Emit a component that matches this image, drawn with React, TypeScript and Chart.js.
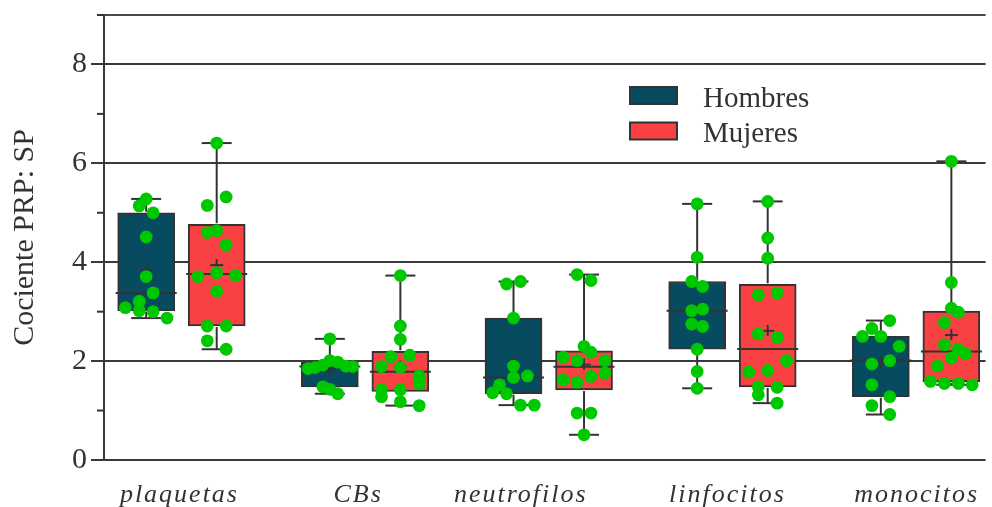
import React, { useEffect, useRef } from 'react';
import { Chart, registerables } from 'chart.js';

Chart.register(...registerables);

// ---------------- DATA ----------------
const categories = ['plaquetas', 'CBs', 'neutrofilos', 'linfocitos', 'monocitos'];
const seriesNames = ['Hombres', 'Mujeres'];
const yAxisTitle = 'Cociente PRP: SP';
const yTickLabels = [0, 2, 4, 6, 8];

// Hombres values per category
const hombresPlaquetas = [5.28, 5.14, 5.0, 4.51, 3.71, 3.38, 3.21, 3.08, 3.02, 3.0, 2.87];
const hombresCBs = [2.45, 2.01, 1.98, 1.9, 1.89, 1.92, 1.87, 1.85, 1.48, 1.43, 1.34];
const hombresNeutrofilos = [3.61, 3.56, 2.87, 1.9, 1.7, 1.67, 1.52, 1.36, 1.34, 1.11, 1.11];
const hombresLinfocitos = [5.18, 4.1, 3.61, 3.51, 3.05, 3.02, 2.75, 2.7, 2.24, 1.79, 1.45];
const hombresMonocitos = [2.82, 2.66, 2.5, 2.5, 2.3, 2.01, 1.94, 1.52, 1.28, 1.1, 0.92];

// Mujeres values per category
const mujeresPlaquetas = [6.41, 5.32, 5.15, 4.64, 4.6, 4.35, 3.79, 3.73, 3.71, 3.41, 2.71, 2.71, 2.41, 2.24];
const mujeresCBs = [3.73, 2.71, 2.44, 2.12, 2.09, 1.89, 1.87, 1.7, 1.54, 1.42, 1.42, 1.28, 1.18, 1.1];
const mujeresNeutrofilos = [3.75, 3.63, 2.3, 2.18, 2.08, 2.01, 2.01, 1.76, 1.69, 1.62, 1.57, 0.95, 0.95, 0.51];
const mujeresLinfocitos = [5.23, 4.49, 4.08, 3.38, 3.34, 2.55, 2.48, 2.01, 1.81, 1.78, 1.48, 1.47, 1.32, 1.15];
const mujeresMonocitos = [6.04, 3.59, 3.07, 2.99, 2.78, 2.33, 2.24, 2.15, 2.06, 1.9, 1.59, 1.55, 1.55, 1.52];

const hombresValues = [hombresPlaquetas, hombresCBs, hombresNeutrofilos, hombresLinfocitos, hombresMonocitos];
const mujeresValues = [mujeresPlaquetas, mujeresCBs, mujeresNeutrofilos, mujeresLinfocitos, mujeresMonocitos];

// ---------------- LAYOUT (not data) ----------------
// horizontal spread of the dots inside each box, in px (swarm slots)
const hombresSpread = [
  [0, -7, 7, 0, 0, 7, -7, -21, -7, 7, 21],
  [0, 0, 8, 16, 23, -7, -15, -22, -7, 0, 8],
  [7, -7, 0, 0, 14, 0, -14, -21, -7, 7, 21],
  [0, 0, -5.5, 5.5, 5.5, -5.5, -5.5, 5.5, 0, 0, 0],
  [9, -9, -18.5, 0, 18.5, 9, -9, -9, 9, -9, 9],
];
const mujeresSpread = [
  [0, 9.5, -9.5, 0, -9.5, 9.5, 0, 19, -19, 0, -9.5, 9.5, -9.5, 9.5],
  [0, 0, 0, 9.5, -9.5, -19, 0, 19, 19, -19, 0, -19, 0, 19],
  [-7, 7, 0, 7, -21, -7, 21, 21, 7, -21, -7, -7, 7, 0],
  [0, 0, 0, 9.5, -9.5, -9.5, 9.5, 19, 0, -19, -9.5, 9.5, -9.5, 9.5],
  [0, 0, 0, 7, -7, -7, 7, 14, 0, -14, -21, -7, 7, 21],
];
const labelShiftPx = [-3, -8, -29, -6, -0.5];

const FONT = "'Liberation Serif', 'Times New Roman', Times, serif";
const LINE = '#333333';
const COLORS = ['#064b5f', '#f94144'];
const DOT = '#00c800';
const PX_PER_CAT = 185;
const GROUP_OFFSETS = [-0.192, 0.192];
const BOX_PX = 57;
const CAP_PX = 30;
const X_MIN = -0.4216;
const X_MAX = 4.3784;

type Stats = { min: number; q1: number; med: number; q3: number; max: number; mean: number };

function quant(sorted: number[], p: number): number {
  const n = sorted.length;
  const pos = p * (n + 1);
  if (pos <= 1) return sorted[0];
  if (pos >= n) return sorted[n - 1];
  const lo = Math.floor(pos);
  const f = pos - lo;
  return sorted[lo - 1] + f * (sorted[lo] - sorted[lo - 1]);
}

function stats(vals: number[]): Stats {
  const s = [...vals].sort((a, b) => a - b);
  return {
    min: s[0],
    q1: quant(s, 0.25),
    med: quant(s, 0.5),
    q3: quant(s, 0.75),
    max: s[s.length - 1],
    mean: s.reduce((a, b) => a + b, 0) / s.length,
  };
}

const groupValues = [hombresValues, mujeresValues];
const groupSpread = [hombresSpread, mujeresSpread];
const groupStats: Stats[][] = groupValues.map((g) => g.map(stats));

const boxPlugin = {
  id: 'boxExtras',
  afterDatasetDraw(chart: any, args: any) {
    const ds = chart.data.datasets[args.index];
    if (ds.type !== 'bar') return;
    const g = ds.groupIndex as number;
    const xs = chart.scales.x;
    const ys = chart.scales.y;
    const ctx: CanvasRenderingContext2D = chart.ctx;
    ctx.save();
    ctx.strokeStyle = LINE;
    ctx.lineWidth = 2;
    const seg = (x1: number, y1: number, x2: number, y2: number) => {
      ctx.beginPath();
      ctx.moveTo(x1, y1);
      ctx.lineTo(x2, y2);
      ctx.stroke();
    };
    groupStats[g].forEach((s, i) => {
      const cx = xs.getPixelForValue(i + GROUP_OFFSETS[g]);
      const half = BOX_PX / 2;
      const yq1 = ys.getPixelForValue(s.q1);
      const yq3 = ys.getPixelForValue(s.q3);
      const ymax = ys.getPixelForValue(s.max);
      const ymin = ys.getPixelForValue(s.min);
      seg(cx, yq3 - 1, cx, ymax);
      seg(cx, yq1 + 1, cx, ymin);
      seg(cx - CAP_PX / 2, ymax, cx + CAP_PX / 2, ymax);
      seg(cx - CAP_PX / 2, ymin, cx + CAP_PX / 2, ymin);
      const ym = ys.getPixelForValue(s.med);
      seg(cx - half - 2, ym, cx + half + 2, ym);
      const ymean = ys.getPixelForValue(s.mean);
      seg(cx - 6.5, ymean, cx + 6.5, ymean);
      seg(cx, ymean - 6, cx, ymean + 5);
    });
    ctx.restore();
  },
};

const decorPlugin = {
  id: 'decor',
  afterDraw(chart: any) {
    const ctx: CanvasRenderingContext2D = chart.ctx;
    const xs = chart.scales.x;
    const ys = chart.scales.y;
    const area = chart.chartArea;
    ctx.save();
    // minor ticks
    ctx.strokeStyle = LINE;
    ctx.lineWidth = 2;
    for (let v = 1; v <= 9; v += 2) {
      const y = ys.getPixelForValue(v);
      ctx.beginPath();
      ctx.moveTo(area.left - 7, y);
      ctx.lineTo(area.left, y);
      ctx.stroke();
    }
    // category labels
    ctx.fillStyle = LINE;
    ctx.font = `italic 26px ${FONT}`;
    (ctx as any).letterSpacing = '2px';
    ctx.textAlign = 'center';
    ctx.textBaseline = 'alphabetic';
    categories.forEach((c, i) => {
      const x = xs.getPixelForValue(i) + labelShiftPx[i] + 1;
      ctx.fillText(c, x, area.bottom + 42.3);
    });
    (ctx as any).letterSpacing = '0px';
    // legend
    ctx.font = `29px ${FONT}`;
    ctx.textAlign = 'left';
    ctx.textBaseline = 'alphabetic';
    seriesNames.forEach((name, g) => {
      const bx = area.left + 526;
      const by = area.top + 72 + g * 35.5;
      ctx.fillStyle = COLORS[g];
      ctx.fillRect(bx, by, 47, 17);
      ctx.strokeStyle = LINE;
      ctx.lineWidth = 2;
      ctx.strokeRect(bx, by, 47, 17);
      ctx.fillStyle = LINE;
      ctx.fillText(name, bx + 73, by + 19.5);
    });
    ctx.restore();
  },
};

export default function App() {
  const ref = useRef<HTMLCanvasElement | null>(null);

  useEffect(() => {
    if (!ref.current) return;
    const barSets = groupStats.map((st, g) => ({
      type: 'bar',
      label: seriesNames[g],
      groupIndex: g,
      data: st.map((s, i) => ({ x: i + GROUP_OFFSETS[g], y: [s.q1, s.q3] })),
      backgroundColor: COLORS[g],
      borderColor: LINE,
      borderWidth: 2,
      borderSkipped: false,
      barThickness: BOX_PX,
      grouped: false,
      order: 2,
    }));
    const dotSets = groupValues.map((vals, g) => ({
      type: 'scatter',
      label: seriesNames[g] + ' puntos',
      data: vals.flatMap((arr, i) =>
        arr.map((v, k) => ({ x: i + GROUP_OFFSETS[g] + groupSpread[g][i][k] / PX_PER_CAT, y: v }))
      ),
      backgroundColor: DOT,
      borderWidth: 0,
      pointRadius: 6.4,
      pointHoverRadius: 6.4,
      order: 1,
    }));

    const chart = new Chart(ref.current, {
      type: 'bar',
      data: { datasets: [...barSets, ...dotSets] as any },
      options: {
        animation: false,
        responsive: false,
        devicePixelRatio: 1,
        layout: { padding: { top: 15, right: 0, left: 0, bottom: 0 } },
        plugins: { legend: { display: false }, tooltip: { enabled: false } },
        scales: {
          x: {
            type: 'linear',
            offset: false,
            min: X_MIN,
            max: X_MAX,
            grid: { display: false, offset: false },
            border: { display: false },
            ticks: { display: false },
            afterFit: (s: any) => {
              s.height = 47;
              s.paddingLeft = 0;
              s.paddingRight = 0;
            },
          },
          y: {
            type: 'linear',
            min: 0,
            max: 9,
            afterBuildTicks: (s: any) => {
              s.ticks = Array.from({ length: 10 }, (_, v) => ({ value: v }));
            },
            ticks: {
              autoSkip: false,
              padding: 4,
              color: LINE,
              font: { family: FONT, size: 30 },
              callback: (v: any) => (yTickLabels.includes(Number(v)) ? String(v) : ''),
            },
            grid: {
              lineWidth: 2,
              tickLength: 13,
              tickWidth: 2,
              color: (c: any) => {
                const v = c.tick ? c.tick.value : -1;
                if (v === 9) return '#4a4a4a';
                return v % 2 === 0 ? '#3a3a3a' : 'rgba(0,0,0,0)';
              },
              tickColor: (c: any) => {
                const v = c.tick ? c.tick.value : -1;
                return v % 2 === 0 ? '#3a3a3a' : 'rgba(0,0,0,0)';
              },
            },
            border: { display: true, color: '#3a3a3a', width: 2 },
            title: {
              display: true,
              text: yAxisTitle,
              color: LINE,
              font: { family: FONT, size: 30 },
              padding: { top: 7, bottom: 0 },
            },
            afterFit: (s: any) => {
              s.width = 104;
              s.paddingTop = 0;
              s.paddingBottom = 0;
            },
          },
        },
      },
      plugins: [boxPlugin, decorPlugin],
    } as any);
    return () => chart.destroy();
  }, []);

  return (
    <div style={{ position: 'absolute', left: 0, top: 0, width: 992, height: 507 }}>
      <canvas ref={ref} width={992} height={507} style={{ display: 'block' }} />
    </div>
  );
}
